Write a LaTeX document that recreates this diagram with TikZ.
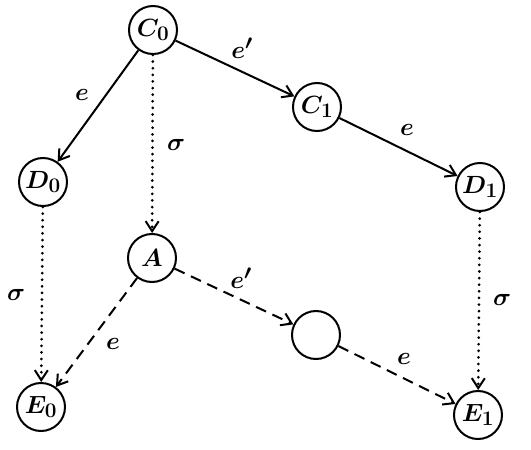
\documentclass[tikz,border=0pt]{standalone}
\usetikzlibrary{arrows.meta}
\begin{document}
\begin{tikzpicture}[x=1pt,y=-1pt,
  st/.style={circle,draw,line width=2pt,minimum size=48pt,inner sep=0pt,font=\fontsize{24.88}{28}\selectfont\boldmath},
  edge/.style={line width=2pt,-{Straight Barb[length=10pt,width=13pt,line width=2pt]}},
  dotline/.style={edge,line cap=round,dash pattern=on 0.01pt off 6.6pt,line width=3pt},
  dashline/.style={edge,dash pattern=on 11pt off 7pt},
  lab/.style={font=\fontsize{24.88}{28}\selectfont\boldmath}]
\useasboundingbox (0,0) rectangle (531,450);
\node[st] (C0) at (153,30) {$C_0$};
\node[st] (D0) at (43,182) {$D_0$};
\node[st] (C1) at (317,107) {$C_1$};
\node[st] (D1) at (480,187) {$D_1$};
\node[st] (A) at (152,258) {$A$};
\node[st] (X) at (316,335) {};
\node[st] (E0) at (41,407) {$E_0$};
\node[st] (E1) at (478,415) {$E_1$};
\draw[edge] (C0) -- (D0);
\draw[edge] (C0) -- (C1);
\draw[edge] (C1) -- (D1);
\draw[dotline] (C0) -- (A);
\draw[dotline] (D0) -- (E0);
\draw[dotline] (D1) -- (E1);
\draw[dashline] (A) -- (E0);
\draw[dashline] (A) -- (X);
\draw[dashline] (X) -- (E1);
\node[lab] (l1) at (82,95) {$e$};
\node[lab] (l2) at (242,48) {$e'$};
\node[lab] (l3) at (176,145) {$\sigma$};
\node[lab] (l4) at (407,130) {$e$};
\node[lab] (l5) at (16,295) {$\sigma$};
\node[lab] (l6) at (241,278) {$e'$};
\node[lab] (l7) at (113,344) {$e$};
\node[lab] (l8) at (404,359) {$e$};
\node[lab] (l9) at (502,300) {$\sigma$};
\end{tikzpicture}
\end{document}
